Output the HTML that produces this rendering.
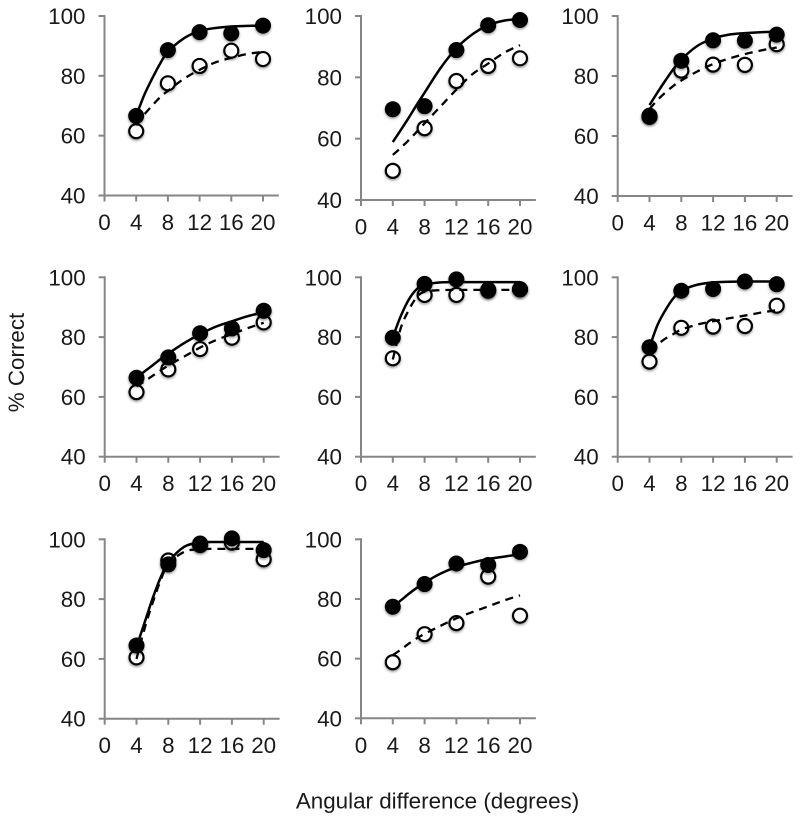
<!DOCTYPE html>
<html lang="en">
<head>
<meta charset="utf-8">
<title>Percent correct by angular difference</title>
<style>
  html, body { margin: 0; padding: 0; background: #fff; }
  #figure { display: block; width: 800px; height: 821px; }
  text { font-family: "Liberation Sans", Arial, sans-serif; fill: #1a1a1a; font-size: 22.4px; }
</style>
</head>
<body>
<svg id="figure" xmlns="http://www.w3.org/2000/svg" width="800" height="821" viewBox="0 0 800 821">
  <defs>
    <filter id="marker-shadow" x="-50%" y="-50%" width="200%" height="200%">
      <feDropShadow dx="0" dy="1.5" stdDeviation="1.4" flood-color="#000" flood-opacity="0.4"/>
    </filter>
  </defs>
  <rect width="800" height="821" fill="#fff"/>
  <text transform="translate(24,362.5) rotate(-90)" text-anchor="middle">% Correct</text>
  <text x="437.5" y="808.3" text-anchor="middle">Angular difference (degrees)</text>
</svg>
<script>
// Axis ticks
const xTicks = [0, 4, 8, 12, 16, 20];
const yTicks = [40, 60, 80, 100];

// Angles of the measured points and of the sampled fitted curves
const sampleAngles = [4, 8, 12, 16, 20];
const fitAngles = [4, 5, 6, 7, 8, 10, 12, 14, 16, 18, 20];

// Panel 1
const p1Filled = [66.6, 88.6, 94.6, 94.2, 96.8];
const p1Open = [61.5, 77.5, 83.3, 88.4, 85.6];
const p1SolidFit = [66.6, 73.5, 79, 84, 88, 92.5, 95, 96, 96.5, 96.7, 96.8];
const p1DashedFit = [63.5, 67, 70, 72.8, 75, 79, 82, 84.5, 86, 87.3, 88];

// Panel 2
const p2Filled = [69.6, 70.6, 88.9, 97, 98.7];
const p2Open = [49.5, 63.4, 78.8, 83.7, 86.2];
const p2SolidFit = [58.9, 62.8, 66.8, 71, 75, 83, 89.5, 94, 97, 98.5, 99];
const p2DashedFit = [54.7, 57, 59.5, 62.2, 65, 70.5, 76, 81, 84.5, 88, 90.5];

// Panel 3
const p3Filled = [66.8, 85.1, 91.9, 91.8, 93.8];
const p3Open = [66.4, 81.8, 83.8, 83.7, 90.6];
const p3SolidFit = [70.3, 74.5, 78.5, 82.3, 85.5, 90, 92.5, 93.8, 94.3, 94.6, 94.8];
const p3DashedFit = [69, 72, 74.5, 76.7, 78.5, 81.5, 84, 85.8, 87.3, 88.5, 89.5];

// Panel 4
const p4Filled = [66.4, 73.2, 81.3, 82.9, 88.8];
const p4Open = [61.6, 69.2, 76, 79.8, 84.9];
const p4SolidFit = [66.4, 68.5, 70.5, 72.6, 74.5, 78, 81, 83.5, 85.3, 87, 88.3];
const p4DashedFit = [63.5, 65.2, 67, 68.8, 70.5, 73.5, 76.5, 79, 81, 83, 84.8];

// Panel 5
const p5Filled = [79.8, 97.8, 99.3, 95.5, 96];
const p5Open = [72.9, 94.1, 94.1, 95.8, 96];
const p5SolidFit = [80, 87, 92.5, 96, 97.5, 98.3, 98.4, 98.4, 98.4, 98.4, 98.4];
const p5DashedFit = [72.5, 83, 89, 93.3, 95.2, 95.7, 95.8, 95.8, 95.8, 95.8, 95.8];

// Panel 6
const p6Filled = [76.6, 95.5, 96.1, 98.6, 97.7];
const p6Open = [71.8, 83.1, 83.5, 83.7, 90.5];
const p6SolidFit = [76.6, 84, 89, 93, 95.5, 97.5, 98.3, 98.5, 98.6, 98.6, 98.6];
const p6DashedFit = [75.5, 77.5, 79.5, 81, 82.5, 84.2, 85.3, 86.3, 87.2, 88.2, 89];

// Panel 7
const p7Filled = [64.5, 91.6, 98.6, 100.3, 96.4];
const p7Open = [60.5, 92.9, 98.1, 98.9, 93.3];
const p7SolidFit = [64, 72, 80, 87, 92.3, 97.5, 98.9, 99.1, 99.1, 99.1, 99.1];
const p7DashedFit = [60, 70, 78.5, 86, 91.7, 95.8, 96.7, 96.8, 96.8, 96.8, 96.8];

// Panel 8
const p8Filled = [77.4, 85, 91.9, 91.4, 95.8];
const p8Open = [58.8, 68.2, 71.9, 87.5, 74.4];
const p8SolidFit = [77.4, 79.5, 81.7, 83.7, 85.5, 88.5, 90.7, 92.2, 93.4, 94.2, 95];
const p8DashedFit = [61.2, 63, 65, 66.8, 68.3, 71, 73.5, 75.6, 77.5, 79.5, 81.2];

const panels = [
  { left: 104.5, width: 158.5, top: 16,    bottom: 195.5, filled: p1Filled, open: p1Open, solid: p1SolidFit, dashed: p1DashedFit },
  { left: 361,   width: 159,   top: 16,    bottom: 200,   filled: p2Filled, open: p2Open, solid: p2SolidFit, dashed: p2DashedFit },
  { left: 617.7, width: 159,   top: 16,    bottom: 196,   filled: p3Filled, open: p3Open, solid: p3SolidFit, dashed: p3DashedFit },
  { left: 104.7, width: 159,   top: 277.3, bottom: 456.7, filled: p4Filled, open: p4Open, solid: p4SolidFit, dashed: p4DashedFit },
  { left: 361,   width: 159,   top: 277.3, bottom: 456.7, filled: p5Filled, open: p5Open, solid: p5SolidFit, dashed: p5DashedFit },
  { left: 617.7, width: 159,   top: 277.3, bottom: 456.7, filled: p6Filled, open: p6Open, solid: p6SolidFit, dashed: p6DashedFit },
  { left: 104.7, width: 159,   top: 539.3, bottom: 718.7, filled: p7Filled, open: p7Open, solid: p7SolidFit, dashed: p7DashedFit },
  { left: 361,   width: 159,   top: 539.3, bottom: 718.3, filled: p8Filled, open: p8Open, solid: p8SolidFit, dashed: p8DashedFit }
];

const SVG_NS = 'http://www.w3.org/2000/svg';
const AXIS_COLOR = '#868686';
const figure = document.getElementById('figure');

function make(tag, parent) {
  const el = document.createElementNS(SVG_NS, tag);
  parent.appendChild(el);
  return el;
}

function smoothPath(points) {
  let d = 'M' + points[0][0].toFixed(2) + ',' + points[0][1].toFixed(2);
  for (let i = 0; i < points.length - 1; i++) {
    const p0 = points[Math.max(i - 1, 0)];
    const p1 = points[i];
    const p2 = points[i + 1];
    const p3 = points[Math.min(i + 2, points.length - 1)];
    const c1x = p1[0] + (p2[0] - p0[0]) / 6;
    const c1y = p1[1] + (p2[1] - p0[1]) / 6;
    const c2x = p2[0] - (p3[0] - p1[0]) / 6;
    const c2y = p2[1] - (p3[1] - p1[1]) / 6;
    d += 'C' + c1x.toFixed(2) + ',' + c1y.toFixed(2) + ' ' + c2x.toFixed(2) + ',' + c2y.toFixed(2) + ' ' + p2[0].toFixed(2) + ',' + p2[1].toFixed(2);
  }
  return d;
}

panels.forEach(function (panel, index) {
  const xScale = function (v) { return panel.left + v * panel.width / 20; };
  const yScale = function (v) { return panel.bottom - (v - 40) * (panel.bottom - panel.top) / 60; };

  const group = make('g', figure);
  
  

  // Axes
  const xAxis = make('line', group);
  
  
  xAxis.setAttribute('x1', xScale(0));
  xAxis.setAttribute('x2', xScale(22));
  xAxis.setAttribute('y1', yScale(40));
  xAxis.setAttribute('y2', yScale(40));
  xAxis.setAttribute('stroke', AXIS_COLOR);
  xAxis.setAttribute('stroke-width', '2');

  const yAxis = make('line', group);
  
  
  yAxis.setAttribute('x1', xScale(0));
  yAxis.setAttribute('x2', xScale(0));
  yAxis.setAttribute('y1', yScale(100) - 1);
  yAxis.setAttribute('y2', yScale(40) + 1);
  yAxis.setAttribute('stroke', AXIS_COLOR);
  yAxis.setAttribute('stroke-width', '2');

  xTicks.forEach(function (tick) {
    const mark = make('line', group);
    
    
    mark.setAttribute('x1', xScale(tick));
    mark.setAttribute('x2', xScale(tick));
    mark.setAttribute('y1', yScale(40));
    mark.setAttribute('y2', yScale(40) + 6);
    mark.setAttribute('stroke', AXIS_COLOR);
    mark.setAttribute('stroke-width', '2');

    const label = make('text', group);
    
    
    label.setAttribute('x', xScale(tick));
    label.setAttribute('y', yScale(40) + 34.5);
    label.setAttribute('text-anchor', 'middle');
    label.textContent = tick;
  });

  yTicks.forEach(function (tick) {
    const mark = make('line', group);
    
    
    mark.setAttribute('x1', xScale(0) - 6);
    mark.setAttribute('x2', xScale(0));
    mark.setAttribute('y1', yScale(tick));
    mark.setAttribute('y2', yScale(tick));
    mark.setAttribute('stroke', AXIS_COLOR);
    mark.setAttribute('stroke-width', '2');

    const label = make('text', group);
    
    
    label.setAttribute('x', xScale(0) - 19);
    label.setAttribute('y', yScale(tick) + 8);
    label.setAttribute('text-anchor', 'end');
    label.textContent = tick;
  });

  // Open markers sit underneath the filled ones
  panel.open.forEach(function (value, i) {
    const dot = make('circle', group);
    
    
    dot.setAttribute('cx', xScale(sampleAngles[i]));
    dot.setAttribute('cy', yScale(value));
    dot.setAttribute('r', '7');
    dot.setAttribute('fill', '#fff');
    dot.setAttribute('stroke', '#000');
    dot.setAttribute('stroke-width', '2.2');
    dot.setAttribute('filter', 'url(#marker-shadow)');
  });

  panel.filled.forEach(function (value, i) {
    const dot = make('circle', group);
    
    
    dot.setAttribute('cx', xScale(sampleAngles[i]));
    dot.setAttribute('cy', yScale(value));
    dot.setAttribute('r', '8');
    dot.setAttribute('fill', '#000');
    dot.setAttribute('filter', 'url(#marker-shadow)');
  });

  const dashed = make('path', group);
  
  
  dashed.setAttribute('d', smoothPath(panel.dashed.map(function (v, i) { return [xScale(fitAngles[i]), yScale(v)]; })));
  dashed.setAttribute('fill', 'none');
  dashed.setAttribute('stroke', '#000');
  dashed.setAttribute('stroke-width', '2.3');
  dashed.setAttribute('stroke-dasharray', '8 6');

  const solid = make('path', group);
  
  
  solid.setAttribute('d', smoothPath(panel.solid.map(function (v, i) { return [xScale(fitAngles[i]), yScale(v)]; })));
  solid.setAttribute('fill', 'none');
  solid.setAttribute('stroke', '#000');
  solid.setAttribute('stroke-width', '2.5');
});
</script>
</body>
</html>
